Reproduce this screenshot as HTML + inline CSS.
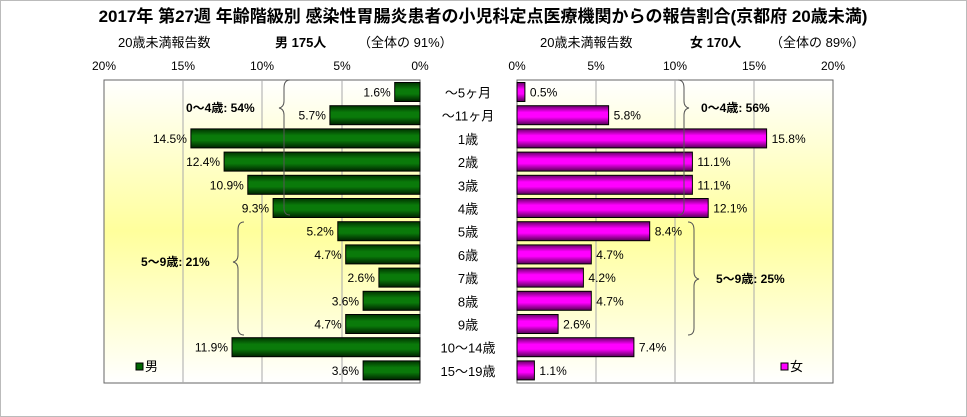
<!DOCTYPE html>
<html><head><meta charset="utf-8"><style>
html,body{margin:0;padding:0;background:#fff}
svg{display:block;font-family:"Liberation Sans","Noto Sans CJK JP",sans-serif}
</style></head><body>
<svg width="967" height="417" xmlns="http://www.w3.org/2000/svg">
<defs>
<linearGradient id="bg" x1="0" y1="0" x2="0" y2="1">
<stop offset="0" stop-color="#ffffff"/><stop offset="0.5" stop-color="#ffff9c"/><stop offset="1" stop-color="#ffffff"/>
</linearGradient>
<linearGradient id="g" x1="0" y1="0" x2="0" y2="1">
<stop offset="0" stop-color="#003300"/><stop offset="0.35" stop-color="#0a7a0a"/><stop offset="0.6" stop-color="#0a7a0a"/><stop offset="1" stop-color="#002200"/>
</linearGradient>
<linearGradient id="m" x1="0" y1="0" x2="0" y2="1">
<stop offset="0" stop-color="#660066"/><stop offset="0.35" stop-color="#ff00ff"/><stop offset="0.6" stop-color="#ff00ff"/><stop offset="1" stop-color="#550055"/>
</linearGradient>
</defs>
<rect x="0.5" y="0.5" width="966" height="416" fill="#fff" stroke="#bbb"/>
<text x="483" y="22" text-anchor="middle" font-size="17" font-weight="bold">2017年 第27週 年齢階級別 感染性胃腸炎患者の小児科定点医療機関からの報告割合(京都府 20歳未満)</text>
<g font-size="13">
<text x="118" y="47">20歳未満報告数</text>
<text x="275" y="47" font-weight="bold">男  175人</text>
<text x="358" y="47">（全体の  91%）</text>
<text x="540" y="47">20歳未満報告数</text>
<text x="690" y="47" font-weight="bold">女  170人</text>
<text x="770" y="47">（全体の  89%）</text>
</g>
<g font-size="12" text-anchor="middle">
<text x="104" y="70">20%</text><text x="183" y="70">15%</text><text x="262" y="70">10%</text><text x="342" y="70">5%</text><text x="420" y="70">0%</text>
<text x="517" y="70">0%</text><text x="596" y="70">5%</text><text x="675" y="70">10%</text><text x="754" y="70">15%</text><text x="833" y="70">20%</text>
</g>
<rect x="104" y="80" width="316" height="303" fill="url(#bg)" stroke="#666"/>
<rect x="517" y="80" width="316" height="303" fill="url(#bg)" stroke="#666"/>
<g stroke="#aaa">
<line x1="183" y1="80" x2="183" y2="383"/><line x1="262" y1="80" x2="262" y2="383"/><line x1="342" y1="80" x2="342" y2="383"/>
<line x1="596" y1="80" x2="596" y2="383"/><line x1="675" y1="80" x2="675" y2="383"/><line x1="754" y1="80" x2="754" y2="383"/>
</g>
<g stroke="#000">
<rect x="394.7" y="82.5" width="25.3" height="19" fill="url(#g)"/>
<rect x="329.9" y="105.7" width="90.1" height="19" fill="url(#g)"/>
<rect x="190.9" y="128.9" width="229.1" height="19" fill="url(#g)"/>
<rect x="224.1" y="152.1" width="195.9" height="19" fill="url(#g)"/>
<rect x="247.8" y="175.3" width="172.2" height="19" fill="url(#g)"/>
<rect x="273.1" y="198.5" width="146.9" height="19" fill="url(#g)"/>
<rect x="337.8" y="221.7" width="82.2" height="19" fill="url(#g)"/>
<rect x="345.7" y="244.9" width="74.3" height="19" fill="url(#g)"/>
<rect x="378.9" y="268.1" width="41.1" height="19" fill="url(#g)"/>
<rect x="363.1" y="291.3" width="56.9" height="19" fill="url(#g)"/>
<rect x="345.7" y="314.5" width="74.3" height="19" fill="url(#g)"/>
<rect x="232.0" y="337.7" width="188.0" height="19" fill="url(#g)"/>
<rect x="363.1" y="360.9" width="56.9" height="19" fill="url(#g)"/>

<rect x="517" y="82.5" width="7.9" height="19" fill="url(#m)"/>
<rect x="517" y="105.7" width="91.6" height="19" fill="url(#m)"/>
<rect x="517" y="128.9" width="249.6" height="19" fill="url(#m)"/>
<rect x="517" y="152.1" width="175.4" height="19" fill="url(#m)"/>
<rect x="517" y="175.3" width="175.4" height="19" fill="url(#m)"/>
<rect x="517" y="198.5" width="191.2" height="19" fill="url(#m)"/>
<rect x="517" y="221.7" width="132.7" height="19" fill="url(#m)"/>
<rect x="517" y="244.9" width="74.3" height="19" fill="url(#m)"/>
<rect x="517" y="268.1" width="66.4" height="19" fill="url(#m)"/>
<rect x="517" y="291.3" width="74.3" height="19" fill="url(#m)"/>
<rect x="517" y="314.5" width="41.1" height="19" fill="url(#m)"/>
<rect x="517" y="337.7" width="116.9" height="19" fill="url(#m)"/>
<rect x="517" y="360.9" width="17.4" height="19" fill="url(#m)"/>
</g>
<g font-size="12" text-anchor="end">
<text x="390.7" y="96.5">1.6%</text>
<text x="325.9" y="119.7">5.7%</text>
<text x="186.9" y="142.9">14.5%</text>
<text x="220.1" y="166.1">12.4%</text>
<text x="243.8" y="189.3">10.9%</text>
<text x="269.1" y="212.5">9.3%</text>
<text x="333.8" y="235.7">5.2%</text>
<text x="341.7" y="258.9">4.7%</text>
<text x="374.9" y="282.1">2.6%</text>
<text x="359.1" y="305.3">3.6%</text>
<text x="341.7" y="328.5">4.7%</text>
<text x="228.0" y="351.7">11.9%</text>
<text x="359.1" y="374.9">3.6%</text>
</g>
<g font-size="12">
<text x="529.9" y="96.5">0.5%</text>
<text x="613.6" y="119.7">5.8%</text>
<text x="771.6" y="142.9">15.8%</text>
<text x="697.4" y="166.1">11.1%</text>
<text x="697.4" y="189.3">11.1%</text>
<text x="713.2" y="212.5">12.1%</text>
<text x="654.7" y="235.7">8.4%</text>
<text x="596.3" y="258.9">4.7%</text>
<text x="588.4" y="282.1">4.2%</text>
<text x="596.3" y="305.3">4.7%</text>
<text x="563.1" y="328.5">2.6%</text>
<text x="638.9" y="351.7">7.4%</text>
<text x="539.4" y="374.9">1.1%</text>
</g>
<g font-size="13" text-anchor="middle">
<text x="468" y="97.5">～5ヶ月</text>
<text x="468" y="120.7">～11ヶ月</text>
<text x="468" y="143.9">1歳</text>
<text x="468" y="167.1">2歳</text>
<text x="468" y="190.3">3歳</text>
<text x="468" y="213.5">4歳</text>
<text x="468" y="236.7">5歳</text>
<text x="468" y="259.9">6歳</text>
<text x="468" y="283.1">7歳</text>
<text x="468" y="306.3">8歳</text>
<text x="468" y="329.5">9歳</text>
<text x="468" y="352.7">10～14歳</text>
<text x="468" y="375.9">15～19歳</text>
</g>
<g fill="none" stroke="#555" stroke-width="1">
<path d="M290 80 Q284 80 284 88 L284 101 Q284 107 279 108 Q284 109 284 115 L284 208 Q284 215 290 215"/>
<path d="M244 222 Q238 222 238 230 L238 255 Q238 261 233 262 Q238 263 238 269 L238 328 Q238 335 244 335"/>
<path d="M678 80 Q684 80 684 88 L684 101 Q684 107 689 108 Q684 109 684 115 L684 208 Q684 215 678 215"/>
<path d="M688 222 Q694 222 694 230 L694 272 Q694 278 699 279 Q694 280 694 286 L694 328 Q694 335 688 335"/>
</g>
<g font-size="12" font-weight="bold">
<text x="186" y="112">0～4歳: 54%</text>
<text x="141" y="266">5～9歳: 21%</text>
<text x="701" y="112">0～4歳: 56%</text>
<text x="716" y="283">5～9歳: 25%</text>
</g>
<g font-size="13">
<rect x="136" y="363" width="7" height="7" fill="#006600" stroke="#000"/><text x="145" y="371">男</text>
<rect x="781" y="363" width="7" height="7" fill="#ff00ff" stroke="#000"/><text x="790" y="371">女</text>
</g>
</svg>
</body></html>
